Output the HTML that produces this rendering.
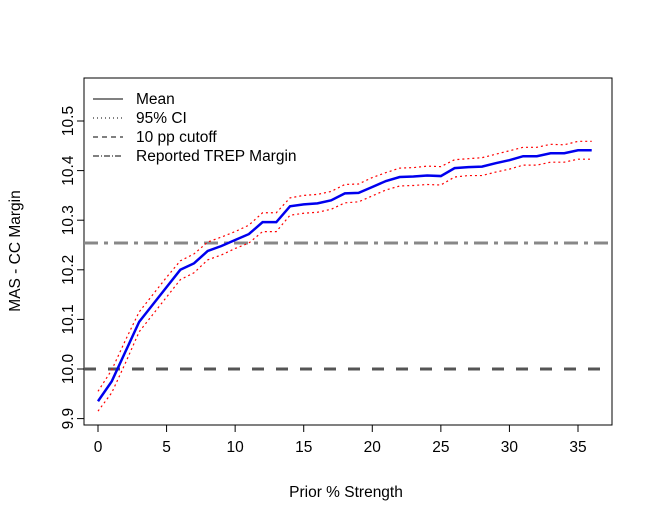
<!DOCTYPE html>
<html><head><meta charset="utf-8"><style>
body{margin:0;background:#fff}
svg{display:block;font-family:"Liberation Sans",Arial,sans-serif}
</style></head><body>
<svg id="c" width="653" height="522"></svg>
<script>
const xs=[0,1,2,3,4,5,6,7,8,9,10,11,12,13,14,15,16,17,18,19,20,21,22,23,24,25,26,27,28,29,30,31,32,33,34,35,36];
const meanVals=[9.935,9.975,10.035,10.095,10.13,10.165,10.2,10.213,10.238,10.248,10.26,10.272,10.296,10.296,10.328,10.332,10.334,10.34,10.354,10.355,10.367,10.379,10.387,10.388,10.39,10.389,10.405,10.407,10.408,10.415,10.421,10.429,10.429,10.435,10.435,10.441,10.441];
const upperVals=[9.955,9.998,10.058,10.115,10.15,10.185,10.218,10.232,10.256,10.266,10.277,10.29,10.315,10.315,10.345,10.35,10.352,10.358,10.372,10.373,10.386,10.396,10.405,10.406,10.409,10.408,10.422,10.424,10.426,10.433,10.44,10.447,10.447,10.453,10.452,10.459,10.459];
const lowerVals=[9.915,9.952,10.012,10.075,10.11,10.145,10.18,10.194,10.22,10.23,10.243,10.254,10.277,10.277,10.31,10.314,10.316,10.322,10.335,10.337,10.349,10.361,10.369,10.37,10.372,10.371,10.387,10.39,10.39,10.397,10.403,10.411,10.411,10.417,10.417,10.423,10.423];
const xTicks=[0,5,10,15,20,25,30,35];
const yTicks=[9.9,10.0,10.1,10.2,10.3,10.4,10.5];
const cutoff=10.0, trep=10.254;
const NS='http://www.w3.org/2000/svg', svg=document.getElementById('c');
const FS=15.5;
const X=v=>98+v*(578-98)/35, Y=v=>369-(v-10)*496;
function el(t,a){const e=document.createElementNS(NS,t);for(const k in a)e.setAttribute(k,a[k]);svg.appendChild(e);return e;}
let box=el('rect',{x:84,y:78,width:528,height:347,fill:'none',stroke:'#000'});


xTicks.forEach(t=>{
 let l=el('line',{x1:X(t),x2:X(t),y1:425,y2:432,stroke:'#000'});
 
 
 let tx=el('text',{x:X(t),y:452,'font-size':FS,'text-anchor':'middle'});tx.textContent=t;
 
 
});
let xa=el('line',{x1:X(0),x2:X(35),y1:425,y2:425,stroke:'#000'});


let ya=el('line',{x1:84,x2:84,y1:Y(9.9),y2:Y(10.5),stroke:'#000'});


yTicks.forEach(t=>{
 let l=el('line',{x1:77,x2:84,y1:Y(t),y2:Y(t),stroke:'#000'});
 
 
 let tx=el('text',{x:73,y:Y(t),'font-size':FS,'text-anchor':'middle',transform:`rotate(-90 73 ${Y(t)})`});tx.textContent=t.toFixed(1);
 
 
});
let xt=el('text',{x:346,y:497,'font-size':FS,'text-anchor':'middle'});xt.textContent='Prior % Strength';


let yt=el('text',{x:20,y:251,'font-size':FS,'text-anchor':'middle',transform:'rotate(-90 20 251)'});yt.textContent='MAS - CC Margin';


let c1=el('line',{x1:84,x2:612,y1:Y(cutoff),y2:Y(cutoff),stroke:'#555','stroke-width':3,'stroke-dasharray':'12,12'});


let c2=el('line',{x1:84,x2:612,y1:Y(trep),y2:Y(trep),stroke:'#888','stroke-width':3,'stroke-dasharray':'14,6,4,6'});


const pts=a=>a.map((v,i)=>X(xs[i])+','+Y(v)).join(' ');
let up=el('polyline',{points:pts(upperVals),fill:'none',stroke:'red','stroke-width':1.2,'stroke-dasharray':'2,3'});


let lo=el('polyline',{points:pts(lowerVals),fill:'none',stroke:'red','stroke-width':1.2,'stroke-dasharray':'2,3'});


let mn=el('polyline',{points:pts(meanVals),fill:'none',stroke:'#0000ee','stroke-width':2.5});


const leg=[['Mean',''],['95% CI','1,3'],['10 pp cutoff','5,4'],['Reported TREP Margin','6,2,1,2']];
leg.forEach((d,i)=>{
 const y=99+i*19;
 let l=el('line',{x1:93,x2:123,y1:y,y2:y,stroke:'#000','stroke-dasharray':d[1]||'none'});
 
 
 let t=el('text',{x:136,y:y+5,'font-size':FS});t.textContent=d[0];
 
 
});
</script>
</body></html>
